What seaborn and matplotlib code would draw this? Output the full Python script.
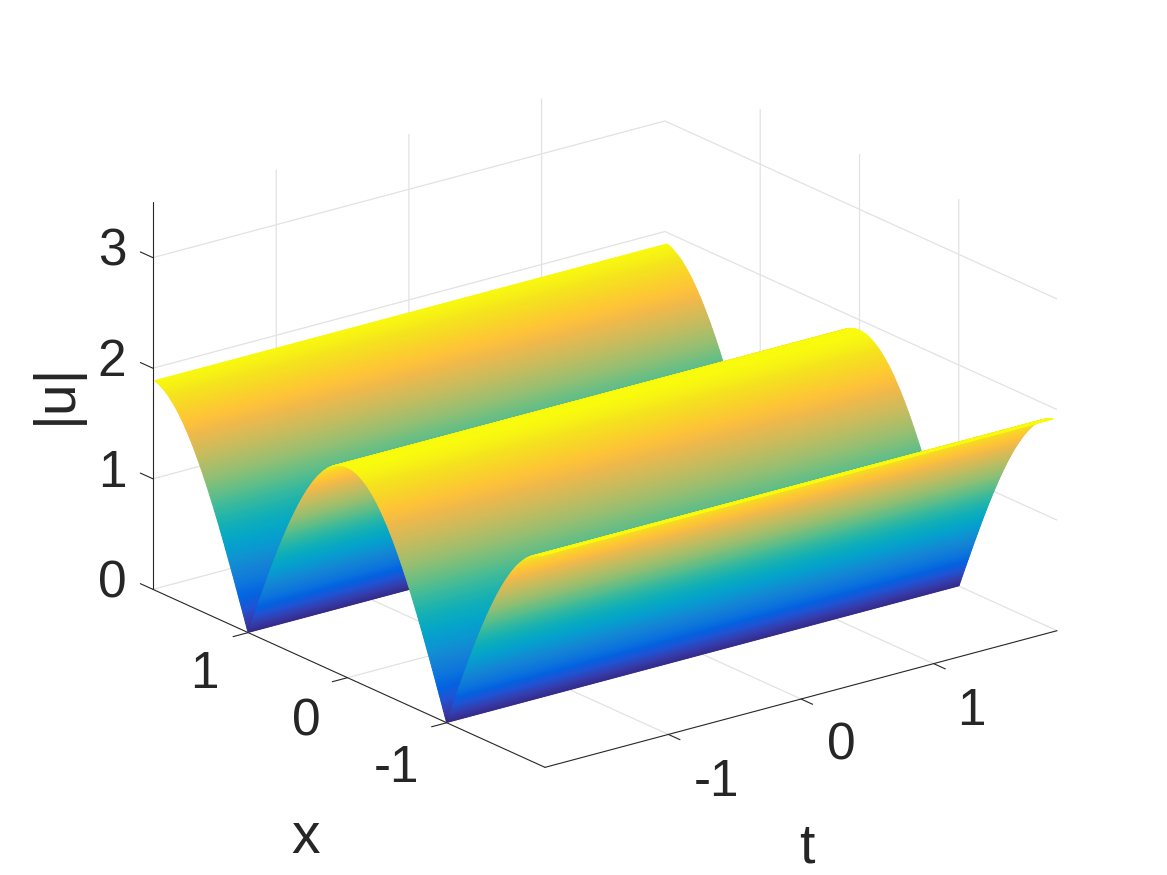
import numpy as np
import matplotlib
matplotlib.use("Agg")
import matplotlib.pyplot as plt
from matplotlib.transforms import Affine2D
import seaborn as sns

# Values
x_samples = [round(-2 + 0.05 * i, 2) for i in range(81)]
u_samples = [
    1.905, 1.899, 1.881, 1.852, 1.812, 1.760, 1.698, 1.624, 1.541, 1.449,
    1.347, 1.237, 1.120, 0.995, 0.865, 0.729, 0.588, 0.445, 0.298, 0.150,
    0.000, 0.150, 0.298, 0.445, 0.588, 0.729, 0.865, 0.995, 1.120, 1.237,
    1.347, 1.449, 1.541, 1.624, 1.698, 1.760, 1.812, 1.852, 1.881, 1.899,
    1.905, 1.899, 1.881, 1.852, 1.812, 1.760, 1.698, 1.624, 1.541, 1.449,
    1.347, 1.237, 1.120, 0.995, 0.865, 0.729, 0.588, 0.445, 0.298, 0.150,
    0.000, 0.150, 0.298, 0.445, 0.588, 0.729, 0.865, 0.995, 1.120, 1.237,
    1.347, 1.449, 1.541, 1.624, 1.698, 1.760, 1.812, 1.852, 1.881, 1.899,
    1.905,
]
t_limits = [-1.93, 1.93]
x_limits = [-1.99, 1.96]
u_limits = [0, 3.5]
x_surface_range = [-1.95, 1.94]
t_ticks = [-1, 0, 1]
x_ticks = [-1, 0, 1]
u_ticks = [0, 1, 2, 3]
parula_anchors = [
    (0.2081, 0.1663, 0.5292), (0.2081, 0.2386, 0.6771), (0.1253, 0.3242, 0.8303),
    (0.0117, 0.3875, 0.8820), (0.0498, 0.4586, 0.8641), (0.0779, 0.5040, 0.8384),
    (0.0641, 0.5570, 0.8240), (0.0265, 0.6137, 0.8135), (0.0228, 0.6535, 0.7768),
    (0.0590, 0.6838, 0.7254), (0.1453, 0.7098, 0.6646), (0.2586, 0.7317, 0.5954),
    (0.3953, 0.7459, 0.5244), (0.5300, 0.7491, 0.4661), (0.6473, 0.7456, 0.4188),
    (0.7525, 0.7384, 0.3768), (0.8507, 0.7299, 0.3360), (0.9450, 0.7261, 0.2886),
    (0.9990, 0.7653, 0.2164), (0.9789, 0.8271, 0.1633), (0.9589, 0.8949, 0.1132),
    (0.9763, 0.9831, 0.0538),
]

# Pixel anchors of the text (centre x, baseline y, measured from the top left)
t_tick_anchor = [(716, 795.5), (841, 759.5), (971, 725)]
x_tick_anchor = [(396, 782), (306, 735), (204, 688)]
u_tick_anchor = [(112, 598), (112, 487), (112, 376), (112, 265)]

sns.set_theme(style="white")
INK = "#262626"
plt.rcParams.update({
    "font.family": ["Liberation Sans", "DejaVu Sans"],
    "grid.color": "#e2e2e2",
    "grid.linewidth": 0.9,
    "axes.edgecolor": INK,
    "axes.linewidth": 0.8,
    "xtick.color": INK,
    "ytick.color": INK,
    "text.color": INK,
    "axes.labelcolor": INK,
})
parula = sns.blend_palette(parula_anchors, n_colors=256, as_cmap=True)

fig = plt.figure(figsize=(11.67, 8.75), dpi=100)
ax = fig.add_axes([0.00488, -0.1609, 1.0, 1.3337], projection="3d")
ax.set_proj_type("ortho")
ax.view_init(elev=20.37, azim=-127.48)
ax.set_box_aspect((645.2, 644.4, 412.8), zoom=0.8327)
ax.set_xlim(*t_limits, view_margin=0)
ax.set_ylim(*x_limits, view_margin=0)
ax.set_zlim(*u_limits, view_margin=0)

# Shading subdivision of the measured profile, like MATLAB's interpolated shading
x_shade = np.linspace(x_surface_range[0], x_surface_range[1], 600)
u_shade = np.interp(x_shade, x_samples, u_samples)
T, X = np.meshgrid(t_limits, x_shade)
U = np.column_stack([u_shade, u_shade])
surface = ax.plot_surface(T, X, U, cmap=parula, vmin=0, vmax=max(u_samples), rstride=1,
                          cstride=1, linewidth=0.8, antialiased=True, shade=False)
surface.set_edgecolor("face")

ax.set_xticks(t_ticks)
ax.set_yticks(x_ticks)
ax.set_zticks(u_ticks)
ax.set_xticklabels([str(v) for v in t_ticks], fontsize=37, color=INK)
ax.set_yticklabels([str(v) for v in x_ticks], fontsize=37, color=INK)
ax.set_zticklabels([str(v) for v in u_ticks], fontsize=37, color=INK)

for axis, tick_factor in ((ax.xaxis, -0.37), (ax.yaxis, -0.37), (ax.zaxis, 0.4)):
    axis.set_pane_color((1, 1, 1, 0))
    axis.pane.set_edgecolor((1, 1, 1, 0))
    axis._axinfo["tick"]["inward_factor"] = 0.0
    axis._axinfo["tick"]["outward_factor"] = tick_factor
    axis._axinfo["tick"]["linewidth"] = {True: 0.8, False: 0.5}
    axis._axinfo["label"]["va"] = "baseline"
    axis._axinfo["label"]["ha"] = "center"
    axis.line.set_color(INK)
    axis.line.set_linewidth(0.8)
    axis.set_rotate_label(False)
# MATLAB draws the vertical axis' ticks along the x direction
ax.zaxis._get_tickdir = lambda position: 1

ax.set_xlabel("t", fontsize=40)
ax.set_ylabel("x", fontsize=41)
ax.set_zlabel("|u|", fontsize=41, rotation=90)


def pin(text, anchor):
    """Shift a text artist so that its anchor lands on a reference pixel.

    The 3D axis resets each text's transform on every draw, so the shifted
    transform is exposed through get_transform, which the text's draw reads.
    """
    px = ax.transData.transform(text.get_position())
    shift = Affine2D().translate(anchor[0] - px[0], (875 - anchor[1]) - px[1])
    shifted = ax.transData + shift
    text.get_transform = lambda: shifted


fig.canvas.draw()
for axis, anchors in ((ax.xaxis, t_tick_anchor), (ax.yaxis, x_tick_anchor), (ax.zaxis, u_tick_anchor)):
    for tick, anchor in zip(axis.get_major_ticks(), anchors):
        tick.label1.set_ha("center")
        tick.label1.set_va("baseline")
        pin(tick.label1, anchor)
pin(ax.xaxis.label, (807, 862.5))
pin(ax.yaxis.label, (305.7, 852.7))
pin(ax.zaxis.label, (71, 393))

fig.savefig("out.png", dpi=100)
